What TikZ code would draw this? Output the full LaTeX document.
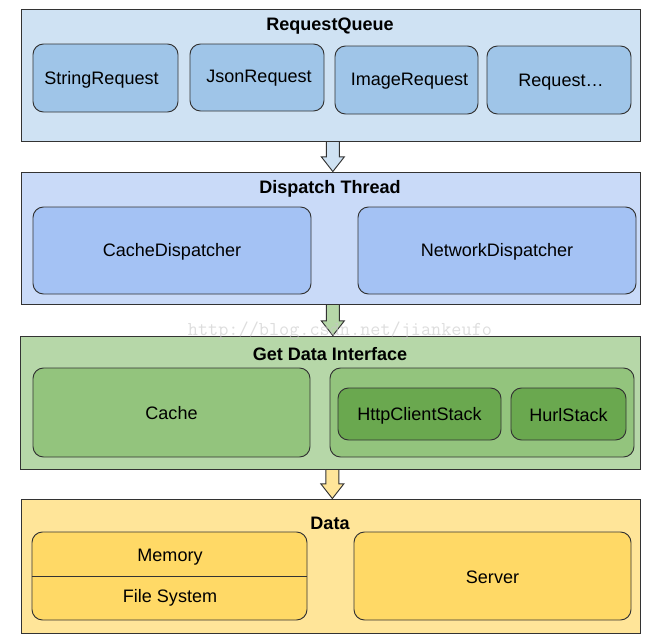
\documentclass[tikz,border=0pt]{standalone}
\usepackage{fontspec}
\setmainfont{Liberation Sans}
\usetikzlibrary{fit,calc}
\definecolor{queueBg}{HTML}{CFE2F3}
\definecolor{queueFg}{HTML}{9FC5E8}
\definecolor{threadBg}{HTML}{C9DAF8}
\definecolor{threadFg}{HTML}{A4C2F4}
\definecolor{fetchBg}{HTML}{B6D7A8}
\definecolor{fetchFg}{HTML}{93C47D}
\definecolor{fetchDark}{HTML}{6AA84F}
\definecolor{dataBg}{HTML}{FFE599}
\definecolor{dataFg}{HTML}{FFD966}
\tikzset{
  layer/.style={draw=black!80, line width=0.8pt, inner sep=0pt},
  part/.style={draw=black!80, line width=0.8pt, rounded corners=9pt, inner sep=0pt},
}
% block arrow from the bottom of one layer to the top of the next
\newcommand{\flowarrow}[3]{%
  \draw [layer, fill=#3, line join=miter] let \p1=(#1.south), \p2=(#2.north) in
    (\x1-3.5pt,\y1) -- (\x1+7.5pt,\y1) -- (\x1+7.5pt,\y2+12.5pt) -- (\x1+11.8pt,\y2+12.5pt)
    -- (\x1+2pt,\y2) -- (\x1-7.8pt,\y2+12.5pt) -- (\x1-3.5pt,\y2+12.5pt) -- cycle;}
\begin{document}
\begin{tikzpicture}[x=0.03cm, y=-0.03cm, font=\fontsize{15.4}{18}\selectfont]
\useasboundingbox (0,0) rectangle (660,642);
% RequestQueue
\node (queue) [layer, fill=queueBg, fit={(21,9) (640,141)}] {};
\node (queueTitle) at (330,26) {\bfseries RequestQueue};
\node (strReq) [part, fill=queueFg, fit={(33,44) (178,112)}] {};
\node (jsonReq) [part, fill=queueFg, fit={(190,44) (324,111)}] {};
\node (imgReq) [part, fill=queueFg, fit={(335,46) (478,114)}] {};
\node (anyReq) [part, fill=queueFg, fit={(487,46) (631,114)}] {};
\node at ($(strReq)+(-4,2)$) {StringRequest};
\node at ($(jsonReq)+(2,1)$) {JsonRequest};
\node at ($(imgReq)+(3,1)$) {ImageRequest};
\node at ($(anyReq)+(2,2)$) {Request…};
% Dispatch Thread
\node (thread) [layer, fill=threadBg, fit={(21,172) (640,304)}] {};
\node (threadTitle) at (330,189) {\bfseries Dispatch Thread};
\node (cacheDisp) [part, fill=threadFg, fit={(33,207) (311,294)}] {};
\node (netDisp) [part, fill=threadFg, fit={(358,207) (636,294)}] {};
\node at ($(cacheDisp)+(0,1)$) {CacheDispatcher};
\node at ($(netDisp)+(0,1)$) {NetworkDispatcher};
% Get Data Interface
\node (fetch) [layer, fill=fetchBg, fit={(20,336) (640,469)}] {};
\node (fetchTitle) at (330,354) {\bfseries Get Data Interface};
\node (cache) [part, fill=fetchFg, fit={(33,368) (310,457)}] {};
\node (stacks) [part, fill=fetchFg, fit={(330,368) (634,457)}] {};
\node (httpStack) [part, fill=fetchDark, fit={(338,388) (501,440)}] {};
\node (hurlStack) [part, fill=fetchDark, fit={(511,388) (626,440)}] {};
\node at ($(cache)+(0,1)$) {Cache};
\node at ($(httpStack)+(0,2)$) {HttpClientStack};
\node at ($(hurlStack)+(0,1)$) {HurlStack};
% Data
\node (data) [layer, fill=dataBg, fit={(21,499) (640,633)}] {};
\node (dataTitle) at (330,523) {\bfseries Data};
\node (local) [part, fill=dataFg, fit={(32,532) (307,620)}] {};
\draw [line width=0.8pt, draw=black!80] (local.west) -- (local.east);
\node (memory) at (170,557) {Memory};
\node (fileSys) at (170,598) {File System};
\node (server) [part, fill=dataFg, fit={(354,532) (631,620)}] {};
\node at ($(server)+(0,1)$) {Server};
% arrows between layers
\flowarrow{queue}{thread}{queueBg}
\flowarrow{thread}{fetch}{fetchBg}
\flowarrow{fetch}{data}{dataBg}
\node (mark) [text=black!22, opacity=0.6, font=\fontsize{16.8}{18}\ttfamily] at (340,331) {http://blog.csdn.net/jiankeufo};
\end{tikzpicture}
\end{document}
